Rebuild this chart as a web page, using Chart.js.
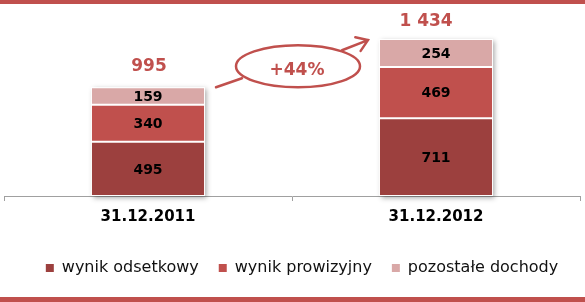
<!DOCTYPE html>
<html>
<head>
<meta charset="utf-8">
<script src="https://cdn.jsdelivr.net/npm/chart.js@4"></script>
<style>
  html, body { margin: 0; padding: 0; background: #fff; }
  #wrap { width: 585px; height: 302px; }
</style>
</head>
<body>
<div id="wrap"><canvas id="chart" width="585" height="302"></canvas></div>
<script>
// Values
const categories = ['31.12.2011', '31.12.2012'];
const seriesNames = ['wynik odsetkowy', 'wynik prowizyjny', 'pozostałe dochody'];
const odsetkowy = [495, 711];
const prowizyjny = [340, 469];
const pozostale = [159, 254];
const totalLabels = ['995', '1 434'];
const growthLabel = '+44%';

const RED = '#C0504D';
const colors = ['#9C403E', '#C0504D', '#D9A8A7'];
const FONT = "'DejaVu Sans', Verdana, sans-serif";

Chart.defaults.font.family = FONT;

// red bands at top and bottom of the slide
const bands = {
    id: 'bands',
    beforeDraw(chart) {
        const { ctx, width } = chart;
        ctx.save();
        ctx.fillStyle = RED;
        ctx.fillRect(0, 0, width, 4);
        ctx.fillRect(0, 297, width, 5);
        ctx.restore();
    }
};

function stackBox(chart, i) {
    const metas = chart.getSortedVisibleDatasetMetas();
    const bottom = metas[0].data[i].getProps(['x', 'base', 'width'], true);
    const top = metas[metas.length - 1].data[i].getProps(['y'], true);
    return { x: bottom.x, left: bottom.x - bottom.width / 2, right: bottom.x + bottom.width / 2, top: top.y, base: bottom.base, width: bottom.width };
}

// soft shadow behind each stacked bar
const barShadow = {
    id: 'barShadow',
    beforeDatasetsDraw(chart) {
        const ctx = chart.ctx;
        categories.forEach((c, i) => {
            const b = stackBox(chart, i);
            ctx.save();
            ctx.shadowColor = 'rgba(0,0,0,0.35)';
            ctx.shadowBlur = 5;
            ctx.shadowOffsetX = 2;
            ctx.shadowOffsetY = 2;
            ctx.fillStyle = '#fff';
            ctx.fillRect(b.left, b.top, b.width, b.base - b.top);
            ctx.restore();
        });
    }
};

// values inside segments and totals above
const valueLabels = {
    id: 'valueLabels',
    afterDatasetsDraw(chart, args, opts) {
        const ctx = chart.ctx;
        ctx.save();
        ctx.textAlign = 'center';
        ctx.textBaseline = 'middle';
        ctx.font = 'bold 14px ' + FONT;
        ctx.fillStyle = '#000';
        chart.getSortedVisibleDatasetMetas().forEach(meta => {
            const data = chart.data.datasets[meta.index].data;
            meta.data.forEach((bar, i) => {
                const p = bar.getProps(['x', 'y', 'base'], true);
                ctx.fillText(String(data[i]), p.x, (p.y + p.base) / 2 + 1);
            });
        });
        ctx.font = 'bold 17px ' + FONT;
        ctx.fillStyle = RED;
        totalLabels.forEach((t, i) => {
            const b = stackBox(chart, i);
            const off = opts.totalOffsets[i];
            ctx.fillText(t, b.x + off.dx, b.top + off.dy);
        });
        ctx.restore();
    }
};

// ellipse with growth and arrow between bars
const growth = {
    id: 'growth',
    afterDraw(chart) {
        const ctx = chart.ctx;
        const b1 = stackBox(chart, 0);
        const b2 = stackBox(chart, 1);
        const cx = (b1.x + b2.x) / 2 + 6;
        const cy = b1.top - 21;
        const rx = 62, ry = 21;
        ctx.save();
        ctx.strokeStyle = RED;
        ctx.lineWidth = 2.5;
        ctx.lineCap = 'round';
        ctx.beginPath();
        ctx.ellipse(cx, cy, rx, ry, 0, 0, Math.PI * 2);
        ctx.stroke();

        // tail from first bar
        ctx.beginPath();
        ctx.moveTo(b1.right + 11, b1.top);
        ctx.lineTo(cx - 56, cy + 12);
        ctx.stroke();

        // arrow to second bar
        const sx = cx + 44, sy = cy - 16;
        const tx = b2.left - 11, ty = b2.top + 1;
        ctx.beginPath();
        ctx.moveTo(sx, sy);
        ctx.lineTo(tx, ty);
        const ang = Math.atan2(sy - ty, sx - tx);
        const len = 13, spread = 0.6;
        ctx.moveTo(tx + len * Math.cos(ang + spread), ty + len * Math.sin(ang + spread));
        ctx.lineTo(tx, ty);
        ctx.lineTo(tx + len * Math.cos(ang - spread), ty + len * Math.sin(ang - spread));
        ctx.stroke();

        ctx.fillStyle = RED;
        ctx.font = 'bold 17px ' + FONT;
        ctx.textAlign = 'center';
        ctx.textBaseline = 'middle';
        ctx.fillText(growthLabel, cx - 1, cy + 4);
        ctx.restore();
    }
};

// nudge the legend a little to the right like the original
const legendShift = {
    id: 'legendShift',
    afterLayout(chart) {
        if (chart.legend) chart.legend.left += 20;
    }
};

const seriesData = [odsetkowy, prowizyjny, pozostale];

new Chart(document.getElementById('chart'), {
    type: 'bar',
    data: {
        labels: categories,
        datasets: seriesNames.map((name, k) => ({
            label: name,
            data: seriesData[k],
            backgroundColor: colors[k],
            borderColor: '#ffffff',
            borderWidth: 1,
            borderSkipped: false,
            categoryPercentage: 1,
            barPercentage: 0.396
        }))
    },
    options: {
        responsive: false,
        animation: false,
        layout: { padding: { left: 4, right: 5, top: 10, bottom: 16 } },
        scales: {
            x: {
                stacked: true,
                grid: { offset: true, drawOnChartArea: false, drawTicks: true, tickLength: 5, color: '#A0A0A0' },
                border: { display: true, color: '#A0A0A0' },
                ticks: { color: '#000', padding: 7, font: { size: 15, weight: 'bold' } },
                afterFit(scale) { scale.height = 44; }
            },
            y: {
                stacked: true,
                display: false,
                min: 0,
                max: 1700
            }
        },
        plugins: {
            legend: {
                position: 'bottom',
                labels: {
                    boxWidth: 8,
                    boxHeight: 8,
                    padding: 20,
                    color: '#111',
                    font: { size: 16 },
                    generateLabels(chart) {
                        const items = Chart.defaults.plugins.legend.labels.generateLabels(chart);
                        items.forEach(it => { it.lineWidth = 0; });
                        return items;
                    }
                }
            },
            tooltip: { enabled: false },
            valueLabels: { totalOffsets: [{ dx: 1, dy: -21 }, { dx: -10, dy: -18 }] }
        }
    },
    plugins: [bands, barShadow, valueLabels, growth, legendShift]
});
</script>
</body>
</html>
